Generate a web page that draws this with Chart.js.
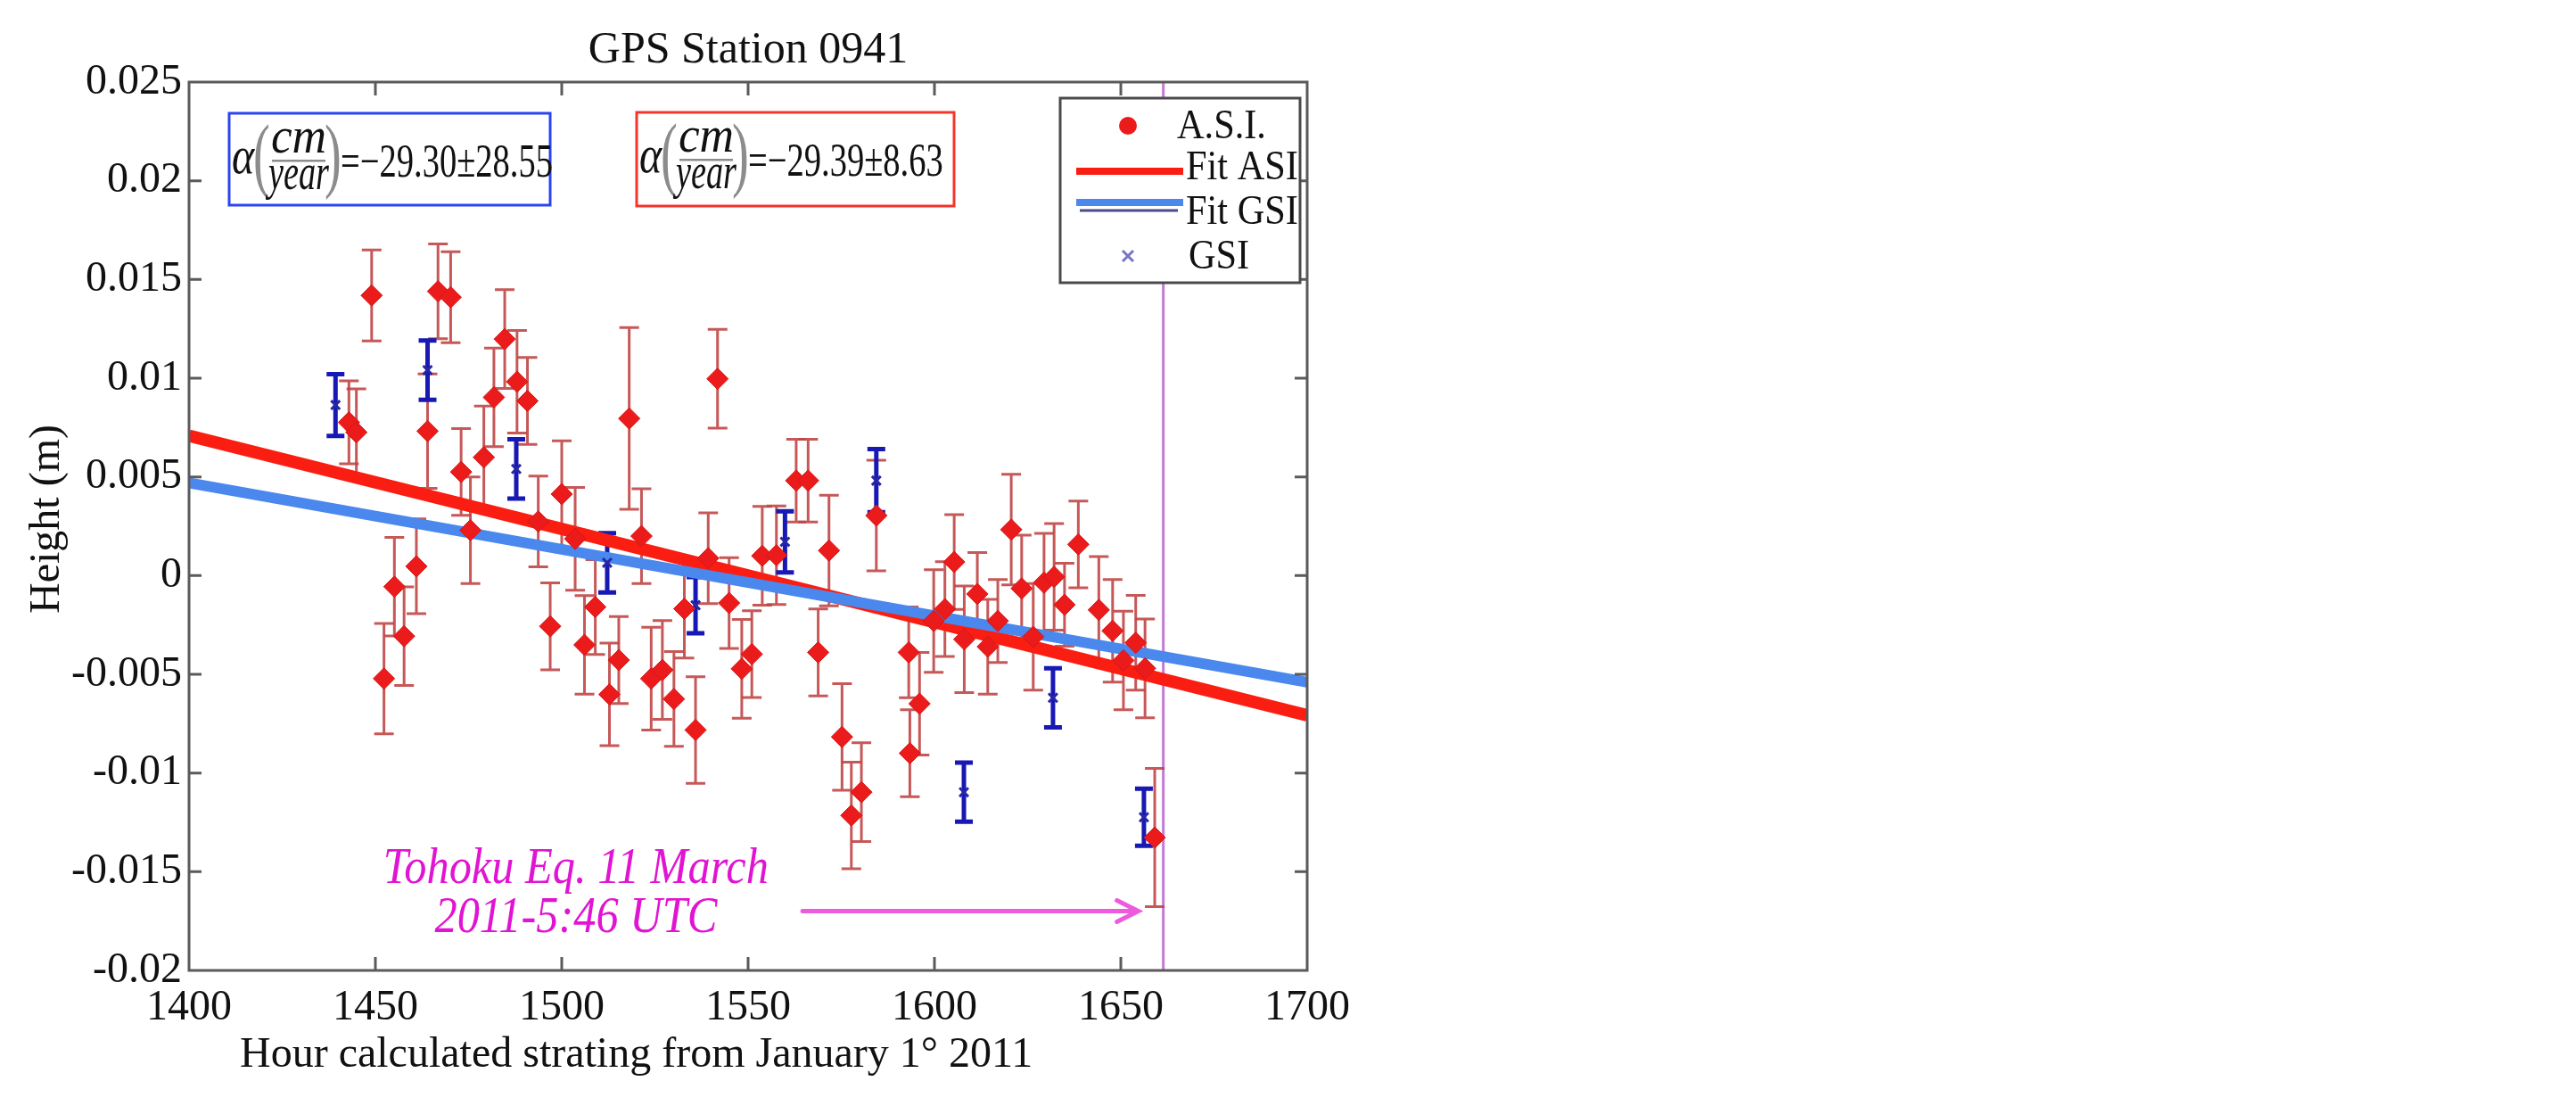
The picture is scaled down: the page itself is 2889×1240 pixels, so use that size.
<!DOCTYPE html>
<html>
<head>
<meta charset="utf-8">
<title>GPS Station 0941</title>
<script src="https://cdn.jsdelivr.net/npm/chart.js@4.4.1/dist/chart.umd.min.js"></script>
<style>
html, body { margin: 0; padding: 0; background: #fff; }
#wrap { width: 2889px; height: 1240px; position: relative; }
</style>
</head>
<body>
<div id="wrap"><canvas id="HeightChart"></canvas></div>
<script>
// A.S.I. heights: hour, height (m), half length of the error bar (m)
var asiHours = [1442.9, 1444.9, 1449.0, 1452.3, 1455.1, 1457.7, 1461.0, 1464.0, 1466.8, 1470.2,
    1473.0, 1475.5, 1479.1, 1481.8, 1484.7, 1488.0, 1490.8, 1493.7, 1496.9, 1500.0,
    1503.6, 1506.1, 1509.0, 1512.8, 1515.3, 1518.1, 1521.4, 1524.0, 1527.0, 1530.1,
    1532.9, 1535.9, 1539.3, 1541.8, 1544.9, 1548.3, 1551.0, 1553.8, 1557.6, 1562.9,
    1566.1, 1568.8, 1571.7, 1575.2, 1577.7, 1580.4, 1584.4, 1593.1, 1593.4, 1596.0,
    1599.8, 1602.8, 1605.3, 1608.0, 1611.5, 1614.3, 1617.0, 1620.6, 1623.4, 1626.5,
    1629.4, 1632.1, 1634.9, 1638.6, 1644.1, 1647.8, 1650.7, 1654.0, 1656.5, 1659.1];
var asiHeights = [0.00776, 0.00726, 0.01419, -0.00522, -0.00056, -0.00307, 0.00047, 0.00732, 0.01440, 0.01410,
    0.00525, 0.00230, 0.00599, 0.00903, 0.01198, 0.00982, 0.00885, 0.00274, -0.00257, 0.00413,
    0.00186, -0.00351, -0.00159, -0.00602, -0.00428, 0.00796, 0.00200, -0.00522, -0.00478, -0.00625,
    -0.00168, -0.00782, 0.00088, 0.00997, -0.00139, -0.00472, -0.00398, 0.00100, 0.00103, 0.00481,
    0.00481, -0.00389, 0.00127, -0.00817, -0.01215, -0.01097, 0.00304, -0.00389, -0.00900, -0.00649,
    -0.00230, -0.00170, 0.00069, -0.00323, -0.00093, -0.00360, -0.00230, 0.00233, -0.00065, -0.00310,
    -0.00036, -0.00006, -0.00148, 0.00158, -0.00174, -0.00280, -0.00430, -0.00340, -0.00470, -0.01327];
var asiErrors = [0.0021, 0.0022, 0.0023, 0.0028, 0.0025, 0.0025, 0.0024, 0.0029, 0.0024, 0.0023,
    0.0022, 0.0027, 0.0026, 0.0025, 0.0025, 0.0026, 0.0022, 0.0023, 0.0022, 0.0027,
    0.0026, 0.0025, 0.0024, 0.0026, 0.0022, 0.0046, 0.0024, 0.0026, 0.0025, 0.0024,
    0.0025, 0.0027, 0.0023, 0.0025, 0.0023, 0.0025, 0.0022, 0.0025, 0.0025, 0.0021,
    0.0021, 0.0022, 0.0028, 0.0027, 0.0027, 0.0025, 0.0028, 0.0023, 0.0022, 0.0026,
    0.0026, 0.0024, 0.0024, 0.0027, 0.0021, 0.0024, 0.0021, 0.0028, 0.0027, 0.0027,
    0.0025, 0.0027, 0.0021, 0.0022, 0.0027, 0.0026, 0.0025, 0.0024, 0.0025, 0.0035];

// GSI heights
var gsiHours = [1439.3, 1464.0, 1487.8, 1512.2, 1535.9, 1559.9, 1584.4, 1607.9, 1631.8, 1656.2];
var gsiHeights = [0.00864, 0.01041, 0.00540, 0.00065, -0.00150, 0.00171, 0.00481, -0.01097, -0.00619, -0.01224];
var gsiErrors = [0.00156, 0.00150, 0.00150, 0.00150, 0.00142, 0.00155, 0.00160, 0.00150, 0.00150, 0.00145];

// linear fits
var fitHours = [1400, 1700];
var asiFit = [0.00708, -0.00708];
var gsiFit = [0.0047, -0.0054];

// earthquake marker
var quakeHour = 1661.4;
var arrowHours = [1564.6, 1654.7];
var arrowHeight = -0.017;
var noteHour = 1503.8;
var noteHeights = [-0.01557, -0.01806];
var noteLines = ["Tohoku Eq. 11 March", "2011-5:46 UTC"];

var xTickValues = [1400, 1450, 1500, 1550, 1600, 1650, 1700];
var xTickLabels = ["1400", "1450", "1500", "1550", "1600", "1650", "1700"];
var yTickValues = [0.025, 0.02, 0.015, 0.01, 0.005, 0, -0.005, -0.01, -0.015, -0.02];
var yTickLabels = ["0.025", "0.02", "0.015", "0.01", "0.005", "0", "-0.005", "-0.01", "-0.015", "-0.02"];

var gsiSlopeText = "=\u221229.30\u00b128.55";
var asiSlopeText = "=\u221229.39\u00b18.63";

var SERIF = "'Liberation Serif', 'Times New Roman', serif";

function toPoints(xs, ys){
    var pts = [];
    for(var i = 0; i < xs.length; i++) pts.push({x: xs[i], y: ys[i]});
    return pts;
}

function drawSquished(ctx, text, x, y, sx, align){
    ctx.save();
    ctx.translate(x, y);
    ctx.scale(sx, 1);
    ctx.textAlign = align || "left";
    ctx.fillText(text, 0, 0);
    ctx.restore();
}

function drawErrorBars(ctx, chart, hours, heights, errors, color, width, cap){
    var x = chart.scales.x, y = chart.scales.y;
    ctx.save();
    ctx.strokeStyle = color;
    ctx.lineWidth = width;
    for(var i = 0; i < hours.length; i++){
        var px = x.getPixelForValue(hours[i]);
        var top = y.getPixelForValue(heights[i] + errors[i]);
        var bot = y.getPixelForValue(heights[i] - errors[i]);
        ctx.beginPath();
        ctx.moveTo(px, top); ctx.lineTo(px, bot);
        ctx.moveTo(px - cap, top); ctx.lineTo(px + cap, top);
        ctx.moveTo(px - cap, bot); ctx.lineTo(px + cap, bot);
        ctx.stroke();
    }
    ctx.restore();
}

// boxed slope formula: alpha (cm / year) = value
function drawEquation(ctx, left, top, w, h, color, valueText, valueScale){
    ctx.save();
    ctx.strokeStyle = color;
    ctx.lineWidth = 3;
    ctx.strokeRect(left, top, w, h);
    ctx.textBaseline = "alphabetic";
    ctx.fillStyle = "#111";
    ctx.font = "italic 60px " + SERIF;
    drawSquished(ctx, "\u03b1", left + 3, top + 67, 0.8);
    ctx.fillStyle = "#8c8c8c";
    ctx.font = "94px " + SERIF;
    drawSquished(ctx, "(", left + 27, top + 77, 0.6);
    drawSquished(ctx, ")", left + 107, top + 77, 0.6);
    ctx.fillRect(left + 48, top + 52, 60, 2.5);
    ctx.fillStyle = "#111";
    ctx.font = "italic 58px " + SERIF;
    drawSquished(ctx, "cm", left + 78, top + 44, 0.92, "center");
    drawSquished(ctx, "year", left + 78, top + 85, 0.66, "center");
    ctx.font = "52px " + SERIF;
    drawSquished(ctx, valueText, left + 125, top + 71, valueScale);
    ctx.restore();
}

var overlayPlugin = {
    id: "overlay",
    beforeDatasetsDraw: function(chart){
        var ctx = chart.ctx, a = chart.chartArea;
        var x = chart.scales.x;
        // earthquake time
        var qx = x.getPixelForValue(quakeHour);
        ctx.save();
        ctx.strokeStyle = "#c27ad6";
        ctx.lineWidth = 3;
        ctx.beginPath(); ctx.moveTo(qx, a.top); ctx.lineTo(qx, a.bottom); ctx.stroke();
        ctx.restore();

        drawErrorBars(ctx, chart, asiHours, asiHeights, asiErrors, "rgba(192,70,70,0.9)", 3, 11);
        drawErrorBars(ctx, chart, gsiHours, gsiHeights, gsiErrors, "#1818b4", 5, 10);
    },
    afterDatasetsDraw: function(chart){
        var ctx = chart.ctx, a = chart.chartArea;
        var x = chart.scales.x, y = chart.scales.y;

        // arrow to the earthquake
        var ax0 = x.getPixelForValue(arrowHours[0]);
        var ax1 = x.getPixelForValue(arrowHours[1]);
        var ay = y.getPixelForValue(arrowHeight);
        ctx.save();
        ctx.strokeStyle = "#ee5ade";
        ctx.lineWidth = 5;
        ctx.lineCap = "round";
        ctx.beginPath();
        ctx.moveTo(ax0, ay); ctx.lineTo(ax1, ay);
        ctx.moveTo(ax1 - 24, ay - 12); ctx.lineTo(ax1, ay); ctx.lineTo(ax1 - 24, ay + 12);
        ctx.stroke();

        // note text
        ctx.fillStyle = "#e014d2";
        ctx.font = "italic 56px " + SERIF;
        ctx.textBaseline = "alphabetic";
        for(var i = 0; i < noteLines.length; i++){
            drawSquished(ctx, noteLines[i], x.getPixelForValue(noteHour), y.getPixelForValue(noteHeights[i]), 0.9, "center");
        }
        ctx.restore();

        // frame with inner ticks
        ctx.save();
        ctx.strokeStyle = "#5a5a5a";
        ctx.lineWidth = 3;
        ctx.strokeRect(a.left, a.top, a.right - a.left, a.bottom - a.top);
        ctx.beginPath();
        x.ticks.forEach(function(t){
            if(t.value <= x.min || t.value >= x.max) return;
            var px = x.getPixelForValue(t.value);
            ctx.moveTo(px, a.bottom); ctx.lineTo(px, a.bottom - 15);
            ctx.moveTo(px, a.top); ctx.lineTo(px, a.top + 15);
        });
        y.ticks.forEach(function(t){
            if(t.value <= y.min || t.value >= y.max) return;
            var py = y.getPixelForValue(t.value);
            ctx.moveTo(a.left, py); ctx.lineTo(a.left + 14, py);
            ctx.moveTo(a.right, py); ctx.lineTo(a.right - 14, py);
        });
        ctx.stroke();
        ctx.restore();

        // legend box
        var ds = chart.data.datasets;
        var L = a.right - 8 - 269, T = a.top + 18;
        ctx.save();
        ctx.fillStyle = "#fff";
        ctx.fillRect(L, T, 269, 207);
        ctx.strokeStyle = "#4a4a4a";
        ctx.lineWidth = 3;
        ctx.strokeRect(L, T, 269, 207);

        ctx.fillStyle = ds[0].backgroundColor;
        ctx.beginPath(); ctx.arc(L + 76, T + 31, 10, 0, Math.PI * 2); ctx.fill();

        ctx.lineCap = "butt";
        ctx.strokeStyle = ds[3].borderColor;
        ctx.lineWidth = 8;
        ctx.beginPath(); ctx.moveTo(L + 18, T + 82); ctx.lineTo(L + 138, T + 82); ctx.stroke();
        ctx.strokeStyle = ds[2].borderColor;
        ctx.beginPath(); ctx.moveTo(L + 18, T + 117); ctx.lineTo(L + 138, T + 117); ctx.stroke();
        ctx.strokeStyle = "#4a4a8c";
        ctx.lineWidth = 3;
        ctx.beginPath(); ctx.moveTo(L + 22, T + 126); ctx.lineTo(L + 132, T + 126); ctx.stroke();

        ctx.strokeStyle = "#7474c4";
        ctx.lineWidth = 3;
        ctx.beginPath();
        ctx.moveTo(L + 70, T + 171); ctx.lineTo(L + 82, T + 183);
        ctx.moveTo(L + 82, T + 171); ctx.lineTo(L + 70, T + 183);
        ctx.stroke();

        ctx.fillStyle = "#111";
        ctx.font = "46px " + SERIF;
        ctx.textBaseline = "alphabetic";
        drawSquished(ctx, ds[0].label, L + 131, T + 45, 0.92);
        drawSquished(ctx, ds[3].label, L + 141, T + 91, 0.92);
        drawSquished(ctx, ds[2].label, L + 141, T + 141, 0.92);
        drawSquished(ctx, ds[1].label, L + 144, T + 191, 0.92);
        ctx.restore();

        // slope boxes
        ctx.save();
        ctx.font = "52px " + SERIF;
        var valueScale = 238 / ctx.measureText(gsiSlopeText).width;
        ctx.restore();
        drawEquation(ctx, 257, a.top + 35, 360, 103, "#2a44f0", gsiSlopeText, valueScale);
        drawEquation(ctx, 714, a.top + 34, 356, 105, "#f2362c", asiSlopeText, valueScale);

        // titles
        ctx.save();
        ctx.fillStyle = "#111";
        ctx.textBaseline = "alphabetic";
        ctx.font = "50px " + SERIF;
        drawSquished(ctx, "GPS Station 0941", (a.left + a.right) / 2, a.top - 22, 1, "center");
        ctx.font = "48px " + SERIF;
        drawSquished(ctx, "Hour calculated strating from January 1\u00b0 2011", x.getPixelForValue(1520), a.bottom + 108, 1, "center");
        ctx.translate(53, (a.top + a.bottom) / 2 - 8);
        ctx.rotate(-Math.PI / 2);
        ctx.textAlign = "center";
        ctx.textBaseline = "middle";
        ctx.fillText("Height (m)", 0, 0);
        ctx.restore();
    }
};

var heightChart = new Chart(document.getElementById("HeightChart").getContext("2d"), {
    type: "scatter",
    data: {
        datasets: [
            {
                label: "A.S.I.",
                data: toPoints(asiHours, asiHeights),
                pointStyle: "rectRot",
                pointRadius: 12,
                backgroundColor: "#ec1b1b",
                borderColor: "#d41616",
                borderWidth: 1,
                clip: 0,
                order: 0
            },
            {
                label: "GSI",
                data: toPoints(gsiHours, gsiHeights),
                pointStyle: "crossRot",
                pointRadius: 7,
                borderColor: "#2626a6",
                borderWidth: 3,
                clip: 0,
                order: 1
            },
            {
                type: "line",
                label: "Fit GSI",
                data: toPoints(fitHours, gsiFit),
                borderColor: "#4a88ee",
                borderWidth: 12,
                pointRadius: 0,
                clip: 0,
                order: 2
            },
            {
                type: "line",
                label: "Fit ASI",
                data: toPoints(fitHours, asiFit),
                borderColor: "#fa1e12",
                borderWidth: 14,
                pointRadius: 0,
                clip: 0,
                order: 3
            }
        ]
    },
    options: {
        responsive: true,
        maintainAspectRatio: false,
        devicePixelRatio: 1,
        animation: false,
        layout: { padding: { left: 0, top: 92, right: 1423, bottom: 0 } },
        plugins: {
            legend: { display: false },
            tooltip: { enabled: false }
        },
        scales: {
            x: {
                type: "linear",
                min: 1400,
                max: 1700,
                afterBuildTicks: function(s){ s.ticks = xTickValues.map(function(v){ return {value: v}; }); },
                afterFit: function(s){ s.height = 152; s.paddingLeft = 0; s.paddingRight = 0; },
                grid: { display: false, drawTicks: false },
                border: { display: false },
                ticks: {
                    autoSkip: false,
                    maxRotation: 0,
                    padding: 14,
                    color: "#111",
                    font: { family: SERIF, size: 48 },
                    callback: function(v){ return xTickLabels[xTickValues.indexOf(v)]; }
                }
            },
            y: {
                type: "linear",
                min: -0.02,
                max: 0.025,
                afterBuildTicks: function(s){ s.ticks = yTickValues.map(function(v){ return {value: v}; }); },
                afterFit: function(s){ s.width = 212; s.paddingTop = 0; s.paddingBottom = 0; },
                grid: { display: false, drawTicks: false },
                border: { display: false },
                ticks: {
                    autoSkip: false,
                    padding: 8,
                    color: "#111",
                    font: { family: SERIF, size: 48 },
                    callback: function(v){
                        for(var i = 0; i < yTickValues.length; i++){
                            if(Math.abs(yTickValues[i] - v) < 1e-9) return yTickLabels[i];
                        }
                        return "";
                    }
                }
            }
        }
    },
    plugins: [overlayPlugin]
});
</script>
</body>
</html>
